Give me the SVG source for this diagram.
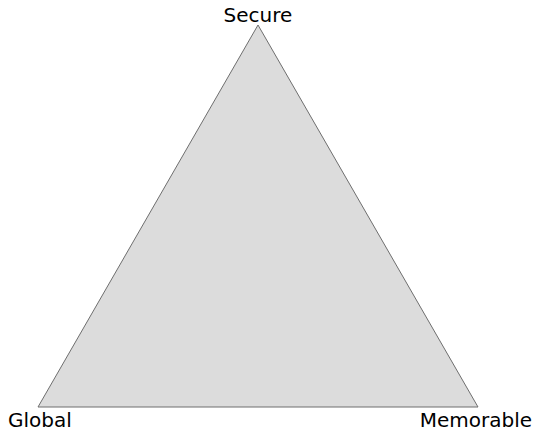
<svg xmlns="http://www.w3.org/2000/svg" width="535" height="430" viewBox="0 0 535 430">
<style>
.lbl{font-family:"DejaVu Sans",sans-serif;font-size:20px;fill:#000}
</style>
<rect width="535" height="430" fill="#fff"/>
<polygon points="258,25 38,407 478,407" fill="#dcdcdc" stroke="#6e6e6e" stroke-width="1"/>
<text class="lbl" x="258" y="22" text-anchor="middle">Secure</text>
<text class="lbl" x="8" y="427">Global</text>
<text class="lbl" x="532" y="427" text-anchor="end">Memorable</text>
</svg>
